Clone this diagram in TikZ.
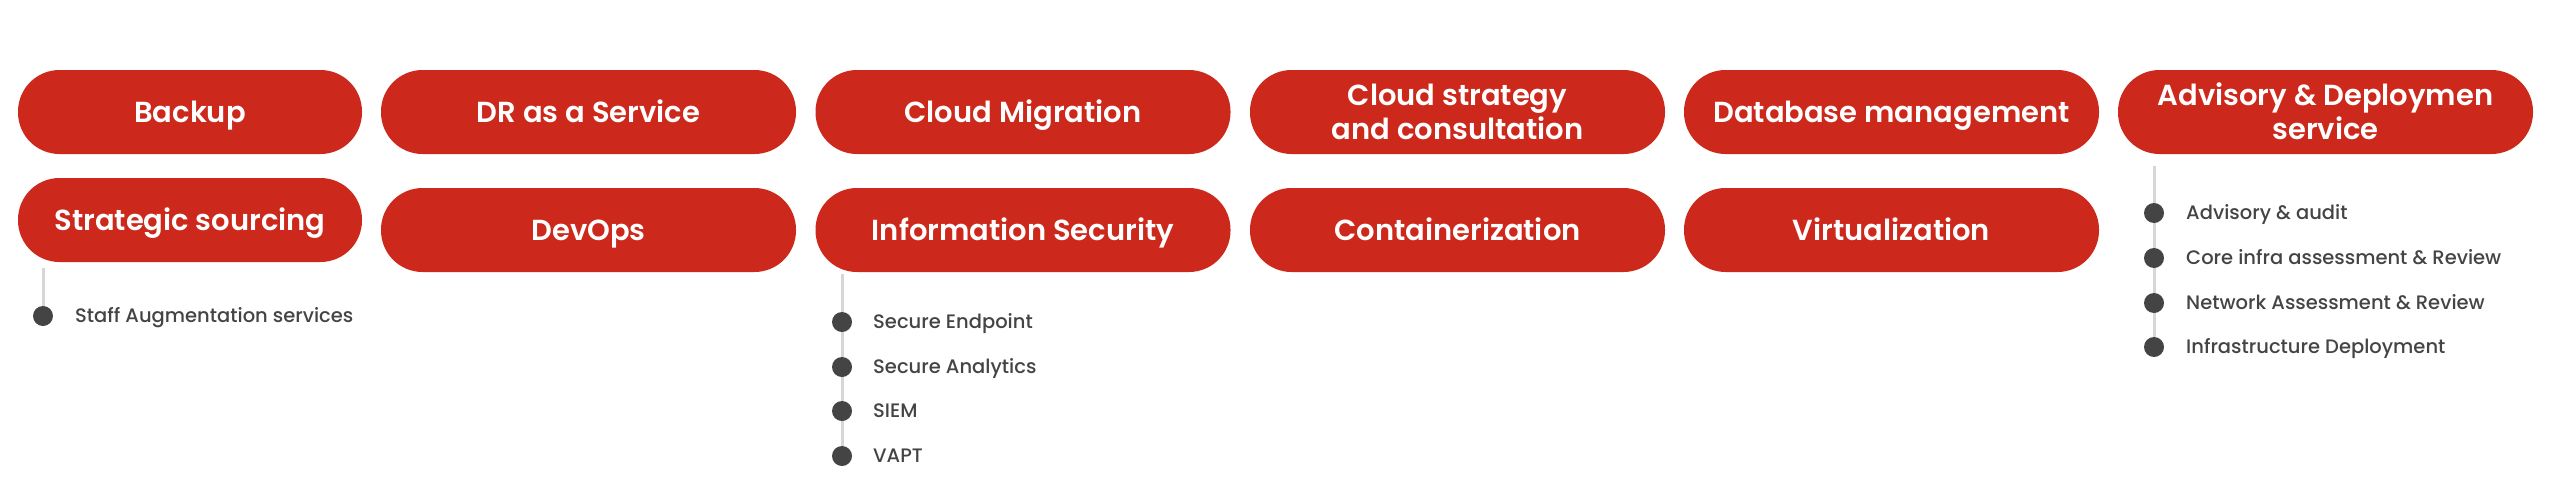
\documentclass[tikz,border=0pt]{standalone}
\usepackage{fontspec}
\setmainfont{Poppins}[BoldFont={Poppins SemiBold}]
\newfontfamily\medfont{Poppins Medium}
\usetikzlibrary{backgrounds}
\definecolor{pillred}{HTML}{CC291C}
\definecolor{dotgray}{HTML}{444444}
\definecolor{linegray}{HTML}{D6D6D6}
\tikzset{
  pill/.style={fill=pillred, text=white, rounded corners=41.5pt, minimum height=84pt,
    minimum width=415pt, inner sep=0pt, align=center,
    font=\bfseries\fontsize{29}{34}\selectfont, text height=20.3pt, text depth=0pt},
  pillsm/.style={pill, minimum width=344pt},
  pilltwo/.style={text height=54.3pt},
  subdot/.style={circle, fill=dotgray, minimum size=20pt, inner sep=0pt},
  subitem/.style={anchor=west, text=dotgray, inner sep=0pt,
    font=\medfont\fontsize{19.5}{23}\selectfont, text height=13.3pt, text depth=0pt},
  stemline/.style={linegray, line width=3pt}
}
\begin{document}
\begin{tikzpicture}[x=1pt, y=-1pt]
\useasboundingbox (0,0) rectangle (2560,488);
% pills
\node[pillsm] (backup) at (190,112) {Backup};
\node[pillsm] (strat) at (190,220) {Strategic sourcing};
\node[pill] (dr) at (588.5,112) {DR as a Service};
\node[pill] (devops) at (588.5,230) {DevOps};
\node[pill] (mig) at (1023,112) {Cloud Migration};
\node[pill] (infosec) at (1023,230) {Information Security};
\node[pill, pilltwo] (strategy) at (1457.5,112) {Cloud strategy\\and consultation};
\node[pill] (cont) at (1457.5,230) {Containerization};
\node[pill] (db) at (1891.5,112) {Database management};
\node[pill] (virt) at (1891.5,230) {Virtualization};
\node[pill, pilltwo] (adv) at (2325.5,112) {Advisory \& Deploymen\\service};
% strategic sourcing items
\coordinate (s1) at (43,268);
\node[subdot] (a1) at (43,316) {};
\node[subitem] (ta1) at (75,316) {Staff Augmentation services};
% information security items
\coordinate (s2) at (842,274);
\node[subdot] (b1) at (842,322) {};
\node[subdot] (b2) at (842,367) {};
\node[subdot] (b3) at (842,411) {};
\node[subdot] (b4) at (842,456) {};
\node[subitem] (tb1) at (873,322) {Secure Endpoint};
\node[subitem] (tb2) at (873,367) {Secure Analytics};
\node[subitem] (tb3) at (873,411) {SIEM};
\node[subitem] (tb4) at (873,456) {VAPT};
% advisory items
\coordinate (s3) at (2154,166);
\node[subdot] (c1) at (2154,213) {};
\node[subdot] (c2) at (2154,258) {};
\node[subdot] (c3) at (2154,303) {};
\node[subdot] (c4) at (2154,347) {};
\node[subitem] (tc1) at (2186,213) {Advisory \& audit};
\node[subitem] (tc2) at (2186,258) {Core infra assessment \& Review};
\node[subitem] (tc3) at (2186,303) {Network Assessment \& Review};
\node[subitem] (tc4) at (2186,347) {Infrastructure Deployment};
\begin{scope}[on background layer]
  \draw[stemline] (s1) -- (a1.center);
  \draw[stemline] (s2) -- (b4.center);
  \draw[stemline] (s3) -- (c4.center);
\end{scope}
\end{tikzpicture}
\end{document}
